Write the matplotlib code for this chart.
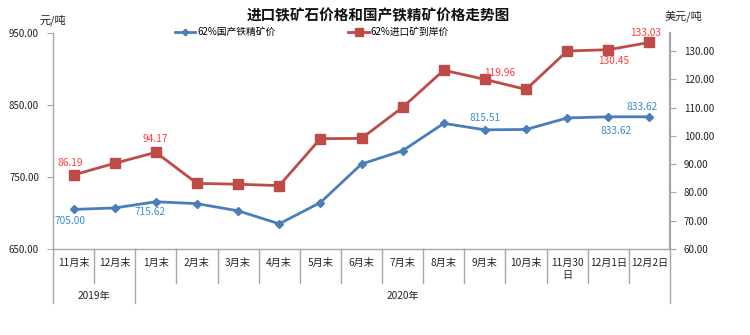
import matplotlib
matplotlib.use("Agg")
import matplotlib.pyplot as plt
import matplotlib.transforms as mtrans

plt.rcParams['font.family'] = ['Noto Sans CJK SC', 'DejaVu Sans']

categories = ["11月末", "12月末", "1月末", "2月末", "3月末", "4月末", "5月末", "6月末",
              "7月末", "8月末", "9月末", "10月末", "11月30\n日", "12月1日", "12月2日"]
years = ["2019年", "2020年"]
year_spans = [(0, 2), (2, 15)]
domestic = [705.00, 707.0, 715.62, 713.0, 703.0, 685.0, 714.5, 768.0,
            786.5, 824.5, 815.51, 816.0, 832.0, 833.62, 833.62]
imported = [86.19, 90.3, 94.17, 83.2, 82.9, 82.4, 99.0, 99.1,
            110.1, 123.2, 119.96, 116.4, 130.0, 130.45, 133.03]
left_ticks = [650, 750, 850, 950]
right_ticks = [60, 70, 80, 90, 100, 110, 120, 130]

BLUE = "#4A7EBB"
RED = "#BE4B48"
BLUE_T = "#3A8BD6"
RED_T = "#FF3B3B"
GRAY = "#A6A6A6"

fig = plt.figure(figsize=(7.5, 3.35), dpi=100)
ax = fig.add_axes([53/750, 1-249/335, (670-53)/750, (249-33)/335])
ax2 = ax.twinx()

x = list(range(len(categories)))
ax.plot(x, domestic, color=BLUE, lw=2.0, marker='D', ms=4.2, mec=BLUE, mfc=BLUE, zorder=3,
        label="62%国产铁精矿价")
ax2.plot(x, imported, color=RED, lw=2.0, marker='s', ms=6.5, mec=RED, mfc=RED, zorder=3,
         label="62%进口矿到岸价")

ax.set_xlim(-0.5, len(categories)-0.5)
ax.set_ylim(650, 950)
ax2.set_ylim(60, 136.36)
ax.set_yticks(left_ticks)
ax.set_yticklabels([f"{v:.2f}" for v in left_ticks], fontsize=7)
ax2.set_yticks(right_ticks)
ax2.set_yticklabels([f"{v:.2f}" for v in right_ticks], fontsize=7)
ax.set_xticks([])
ax2.set_xticks([])

for a in (ax, ax2):
    a.spines['top'].set_visible(False)
    for s in ('left', 'right', 'bottom'):
        a.spines[s].set_color(GRAY)
ax.spines['right'].set_visible(False)
ax2.spines['left'].set_visible(False)
ax2.spines['bottom'].set_visible(False)
ax.spines['left'].set_linewidth(1.0)
ax.spines['bottom'].set_linewidth(1.0)
ax2.spines['right'].set_linewidth(1.6)
ax.tick_params(axis='y', length=4, color=GRAY, width=0.8, pad=6, labelcolor='#222222')
ax2.tick_params(axis='y', length=4, color=GRAY, width=0.8, pad=6, labelcolor='#222222')

# category axis labels and separators
trans = mtrans.blended_transform_factory(ax.transData, ax.transAxes)
h = 216.0
for i, c in enumerate(categories):
    if "\n" in c:
        l1, l2 = c.split("\n")
        ax.text(i, -13.5/h, l1, transform=trans, ha='center', va='center', fontsize=7.3, color='#222222')
        ax.text(i, -26/h, l2, transform=trans, ha='center', va='center', fontsize=7.3, color='#222222')
    else:
        ax.text(i, -13.5/h, c, transform=trans, ha='center', va='center', fontsize=7.3, color='#222222')
bounds = [s for s, e in year_spans] + [year_spans[-1][1]]
for b in range(len(categories)+1):
    xb = b - 0.5
    y2 = -54/h if b in bounds else -34/h
    ax.plot([xb, xb], [0, y2], transform=trans, color=GRAY, lw=1.0, clip_on=False)
for (s, e), yl in zip(year_spans, years):
    ax.text((s + e - 1)/2, -47/h, yl, transform=trans, ha='center', va='center', fontsize=7.3, color='#222222')

# data labels
def lab(a, i, vals, txt, dx, dy, col):
    a.annotate(txt, (i, vals[i]), xytext=(dx, dy), textcoords='offset pixels',
               ha='center', va='center', fontsize=7.3, color=col, zorder=5)

lab(ax2, 0, imported, "86.19", -3, 12, RED_T)
lab(ax2, 2, imported, "94.17", -1, 13, RED_T)
lab(ax2, 10, imported, "119.96", 15, 6, RED_T)
lab(ax2, 13, imported, "130.45", 5, -11, RED_T)
lab(ax2, 14, imported, "133.03", -4, 9, RED_T)
lab(ax, 0, domestic, "705.00", -4, -12, BLUE_T)
lab(ax, 2, domestic, "715.62", -6, -10, BLUE_T)
lab(ax, 10, domestic, "815.51", 0, 12, BLUE_T)
lab(ax, 13, domestic, "833.62", 8, -14, BLUE_T)
lab(ax, 14, domestic, "833.62", -7, 10, BLUE_T)

# axis unit labels
fig.text(53/750, 1-20/335, "元/吨", ha='center', va='center', fontsize=8, color='#222222')
fig.text(683/750, 1-16/335, "美元/吨", ha='center', va='center', fontsize=8, color='#222222')

# title
fig.text(378/750, 1-15/335, "进口铁矿石价格和国产铁精矿价格走势图", ha='center', va='center',
         fontsize=10.5, fontweight='bold', color='#111111')

# legend
h1, l1 = ax.get_legend_handles_labels()
h2, l2 = ax2.get_legend_handles_labels()
leg = fig.legend(h1 + h2, l1 + l2, loc='center', bbox_to_anchor=(312/750, 1-32/335), ncol=2,
                 frameon=False, fontsize=7, handlelength=2.1, handletextpad=0.2,
                 columnspacing=7.5, borderpad=0, markerscale=0.8)

fig.savefig("out.png", dpi=100)
